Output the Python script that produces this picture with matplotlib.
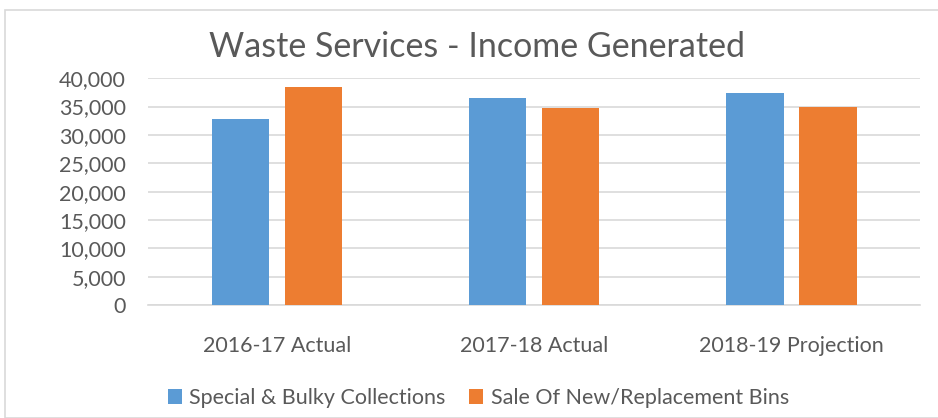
import matplotlib.pyplot as plt
import numpy as np
from matplotlib.patches import Rectangle

categories = ['2016-17 Actual', '2017-18 Actual', '2018-19 Projection']
special_bulky = [32800, 36500, 37400]
bins_sales = [38400, 34700, 34900]
series_names = ['Special & Bulky Collections', 'Sale Of New/Replacement Bins']
yticks = [0, 5000, 10000, 15000, 20000, 25000, 30000, 35000, 40000]

plt.rcParams['font.family'] = ['Lato', 'DejaVu Sans']
text_color = '#595959'

fig = plt.figure(figsize=(9.38, 4.18), dpi=100)
ax = fig.add_axes([0.158, 0.270, 0.823, 0.543])

# chart area frame
fig.patches.append(Rectangle((5 / 938, 0), 1, 1 - 10 / 418, transform=fig.transFigure,
                             fill=False, edgecolor='#d9d9d9', linewidth=1.2))

x = np.arange(len(categories))
w = 0.222
off = 0.142
b1 = ax.bar(x - off, special_bulky, w, color='#5b9bd5', label=series_names[0], zorder=3)
b2 = ax.bar(x + off, bins_sales, w, color='#ed7d31', label=series_names[1], zorder=3)

ax.set_xlim(-0.5, 2.5)
ax.set_ylim(0, 40000)
ax.set_yticks(yticks)
ax.set_yticklabels(['{:,}'.format(v) for v in yticks])
ax.set_xticks(x)
ax.set_xticklabels(categories)
ax.grid(axis='y', color='#d9d9d9', linewidth=1.2, zorder=0)
for s in ['top', 'right', 'left']:
    ax.spines[s].set_visible(False)
ax.spines['bottom'].set_color('#d9d9d9')
ax.spines['bottom'].set_linewidth(1.2)
ax.tick_params(axis='both', length=0, labelsize=15.5, labelcolor=text_color)
ax.tick_params(axis='y', pad=16)
ax.tick_params(axis='x', pad=22)

fig.text(0.508, 0.888, 'Waste Services - Income Generated', ha='center', va='center',
         fontsize=24.5, color=text_color)

fig.legend(handles=[b1, b2], loc='center', bbox_to_anchor=(0.51, 0.048), ncol=2,
           frameon=False, fontsize=15.5, labelcolor=text_color, handlelength=0.65,
           handleheight=0.65, handletextpad=0.35, columnspacing=1.1)

fig.savefig('out.png', dpi=100)
